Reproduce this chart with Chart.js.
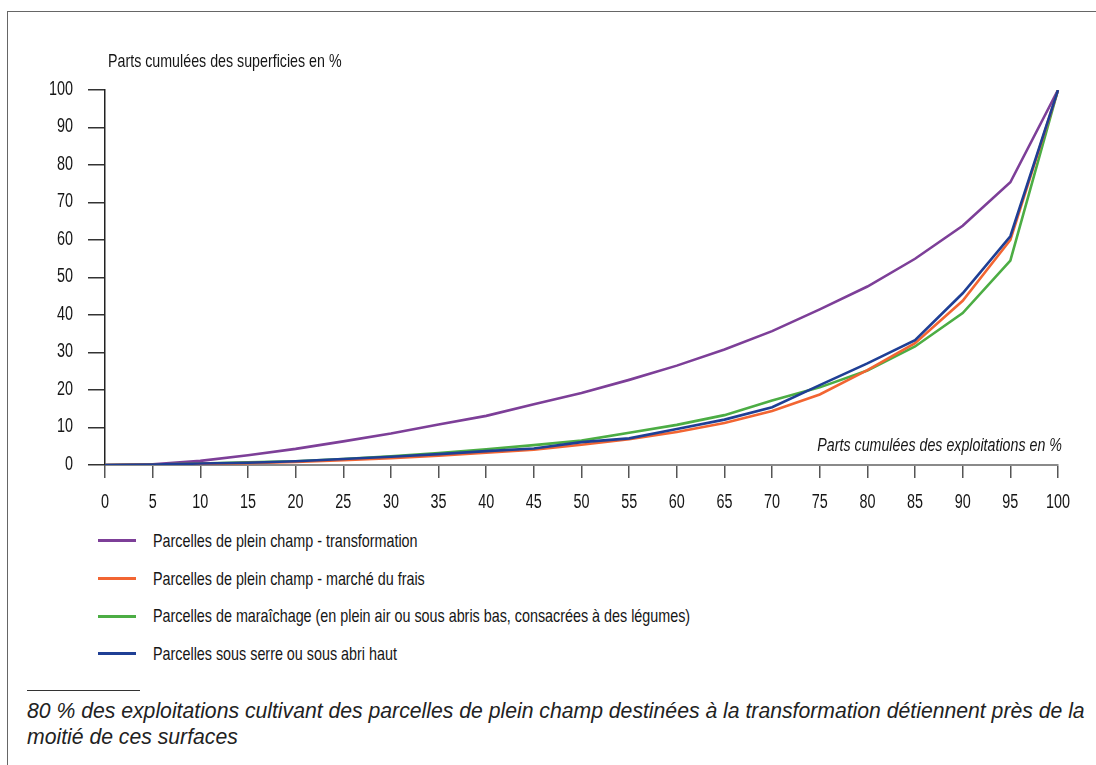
<!DOCTYPE html>
<html lang="fr">
<head>
<meta charset="utf-8">
<script src="https://cdn.jsdelivr.net/npm/chart.js@4/dist/chart.umd.min.js"></script>
<style>
  html, body { margin: 0; padding: 0; background: #fff; }
  body { width: 1096px; height: 765px; position: relative; overflow: hidden; }
  .frame { position: absolute; left: 7px; top: 11px; right: 0; bottom: 0;
           border-top: 1px solid #666; border-left: 1px solid #666; }
  #chartBox { position: absolute; left: 0; top: 0; width: 1096px; height: 520px; }
  #legend { position: absolute; left: 98px; top: 522px; margin: 0; padding: 0; list-style: none;
            font-family: "Liberation Sans", Arial, sans-serif; font-size: 18.5px; color: #161616; }
  #legend li { height: 37.7px; display: flex; align-items: center; white-space: nowrap; }
  #legend .swatch { width: 38px; height: 3px; margin-right: 17px; flex: none; }
  #legend .txt { display: inline-block; transform: scaleX(0.775); transform-origin: left center; }
  .rule { position: absolute; left: 27px; top: 690px; width: 113px; border-top: 1px solid #333; }
  .note { position: absolute; left: 27px; top: 698px; width: 1068px; margin: 0;
          font-family: "Liberation Sans", Arial, sans-serif; font-style: italic;
          font-size: 21.2px; line-height: 26px; color: #222; }
</style>
</head>
<body>
<div class="frame"></div>
<div id="chartBox"><canvas id="lorenz"></canvas></div>
<ul id="legend"></ul>
<div class="rule"></div>
<p class="note">80 % des exploitations cultivant des parcelles de plein champ destinées à la transformation détiennent près de la moitié de ces surfaces</p>

<script>
// cumulative share of farms (x) and of surface (y), in %
const sharesFarms = ['0', '5', '10', '15', '20', '25', '30', '35', '40', '45', '50',
                     '55', '60', '65', '70', '75', '80', '85', '90', '95', '100'];

const transformation = [0, 0.2, 1.1, 2.6, 4.3, 6.3, 8.4, 10.8, 13.1, 16.2, 19.2,
                        22.7, 26.5, 30.8, 35.7, 41.5, 47.6, 55, 63.8, 75.4, 100];
const marcheFrais = [0, 0.1, 0.3, 0.5, 0.8, 1.3, 1.8, 2.5, 3.3, 4.1, 5.4,
                     6.9, 8.8, 11.2, 14.4, 18.8, 25.3, 32.5, 43.8, 60, 100];
const maraichage = [0, 0.1, 0.4, 0.7, 1.0, 1.6, 2.3, 3.2, 4.2, 5.3, 6.5,
                    8.6, 10.7, 13.3, 17.2, 20.7, 25.2, 31.6, 40.5, 54.5, 100];
const sousSerre = [0, 0.1, 0.4, 0.6, 1.0, 1.6, 2.2, 2.9, 3.7, 4.4, 6.1,
                   7.1, 9.6, 12.1, 15.4, 21.3, 27.1, 33.3, 45.8, 61, 100];

const yTicks = [0, 10, 20, 30, 40, 50, 60, 70, 80, 90, 100];

const FONT = '"Liberation Sans", Arial, sans-serif';
const NARROW = 0.77;     // horizontal squeeze for the condensed look
const NARROW_NUM = 0.72;

const series = [
    { label: 'Parcelles de plein champ - transformation', data: transformation, color: '#7d3f98', order: 3 },
    { label: 'Parcelles de plein champ - marché du frais', data: marcheFrais, color: '#f26532', order: 1 },
    { label: 'Parcelles de maraîchage (en plein air ou sous abris bas, consacrées à des légumes)', data: maraichage, color: '#4cad44', order: 2 },
    { label: 'Parcelles sous serre ou sous abri haut', data: sousSerre, color: '#1f3f95', order: 0 }
];

function squeezedText(ctx, text, x, y, align, sx) {
    ctx.save();
    ctx.translate(x, y);
    ctx.scale(sx, 1);
    ctx.textAlign = align;
    ctx.fillText(text, 0, 0);
    ctx.restore();
}

// tick labels and axis captions in a narrow face
const axisText = {
    id: 'axisText',
    afterDraw(chart) {
        const { ctx, chartArea } = chart;
        const xs = chart.scales.x, ys = chart.scales.y;
        ctx.save();
        ctx.fillStyle = '#161616';
        ctx.textBaseline = 'middle';

        ctx.font = '20px ' + FONT;
        xs.ticks.forEach((t, i) => {
            squeezedText(ctx, xs.getLabelForValue(t.value), xs.getPixelForTick(i), chartArea.bottom + 37, 'center', NARROW_NUM);
        });
        ys.ticks.forEach(t => {
            squeezedText(ctx, String(t.value), 73, ys.getPixelForValue(t.value) - 1, 'right', NARROW_NUM);
        });

        ctx.font = '18.5px ' + FONT;
        squeezedText(ctx, 'Parts cumulées des superficies en %', chartArea.left + 3, 62, 'left', NARROW);
        ctx.font = 'italic 18.5px ' + FONT;
        squeezedText(ctx, 'Parts cumulées des exploitations en %', chartArea.right + 4, chartArea.bottom - 19, 'right', NARROW);
        ctx.restore();
    }
};

const ctx = document.getElementById('lorenz').getContext('2d');
new Chart(ctx, {
    type: 'line',
    data: {
        labels: sharesFarms,
        datasets: series.map(s => ({
            label: s.label,
            data: s.data,
            borderColor: s.color,
            backgroundColor: s.color,
            borderWidth: 2.6,
            pointRadius: 0,
            tension: 0,
            order: s.order
        }))
    },
    options: {
        responsive: true,
        maintainAspectRatio: false,
        animation: false,
        layout: { padding: { top: 90, right: 38, left: 0, bottom: 0 } },
        plugins: {
            legend: { display: false },
            tooltip: { enabled: false }
        },
        scales: {
            x: {
                type: 'category',
                offset: false,
                afterFit(scale) { scale.height = 55; },
                grid: { drawOnChartArea: false, drawTicks: true, tickLength: 13, color: '#555', lineWidth: 1.5 },
                border: { color: '#8a8a8a', width: 2 },
                ticks: { display: false, autoSkip: false, maxRotation: 0 }
            },
            y: {
                min: 0,
                max: 100,
                afterFit(scale) { scale.width = 105; },
                afterBuildTicks(scale) { scale.ticks = yTicks.map(v => ({ value: v })); },
                grid: { drawOnChartArea: false, drawTicks: true, tickLength: 17, color: '#333', lineWidth: 1.5 },
                border: { color: '#222', width: 1.5 },
                ticks: { display: false }
            }
        }
    },
    plugins: [axisText]
});

// legend list, one row per series
const legend = document.getElementById('legend');
series.forEach(s => {
    const li = document.createElement('li');
    const sw = document.createElement('span');
    sw.className = 'swatch';
    sw.style.background = s.color;
    const txt = document.createElement('span');
    txt.className = 'txt';
    txt.textContent = s.label;
    li.appendChild(sw);
    li.appendChild(txt);
    legend.appendChild(li);
});
</script>
</body>
</html>
